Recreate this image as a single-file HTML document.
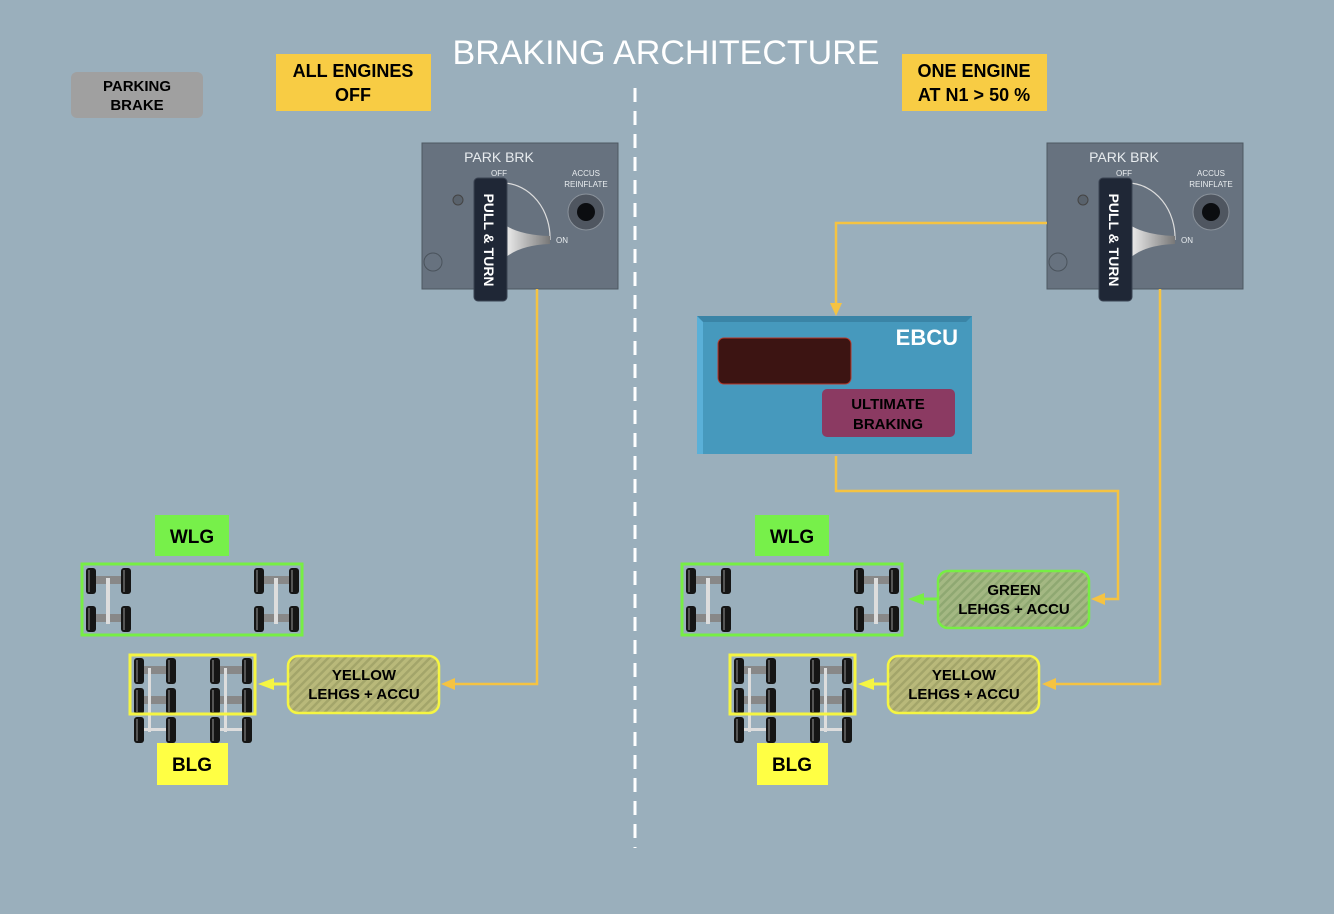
<!DOCTYPE html>
<html><head><meta charset="utf-8"><style>
html,body{margin:0;padding:0;background:#9aafbc;}
svg{display:block;font-family:"Liberation Sans",sans-serif;}
</style></head><body>
<svg width="1334" height="914" viewBox="0 0 1334 914" xmlns="http://www.w3.org/2000/svg">
<defs>
<pattern id="hy" width="6" height="6" patternUnits="userSpaceOnUse" patternTransform="rotate(45)">
<rect width="6" height="6" fill="#b9b97a"/><rect width="2.5" height="6" fill="#a3a56a"/></pattern>
<pattern id="hg" width="6" height="6" patternUnits="userSpaceOnUse" patternTransform="rotate(45)">
<rect width="6" height="6" fill="#a4b883"/><rect width="2.5" height="6" fill="#8fa872"/></pattern>
<linearGradient id="lev" x1="0" x2="1"><stop offset="0" stop-color="#eee"/><stop offset="1" stop-color="#777"/></linearGradient>
<g id="panel">
<rect x="422" y="143" width="196" height="146" fill="#67727f" stroke="#4e5862"/>
<text x="499" y="162" fill="#e8ecef" font-size="14" text-anchor="middle">PARK BRK</text>
<text x="499" y="176" fill="#e8ecef" font-size="8" text-anchor="middle">OFF</text>
<text x="586" y="176" fill="#e8ecef" font-size="8" text-anchor="middle">ACCUS</text>
<text x="586" y="187" fill="#e8ecef" font-size="8" text-anchor="middle">REINFLATE</text>
<path d="M504 183 A48 55 0 0 1 550 240" fill="none" stroke="#ddd" stroke-width="1.2"/>
<text x="556" y="243" fill="#e8ecef" font-size="8">ON</text>
<circle cx="586" cy="212" r="18" fill="#4f5660" stroke="#8a929b"/>
<circle cx="586" cy="212" r="9" fill="#0b0d10"/>
<circle cx="458" cy="200" r="5" fill="#59626c" stroke="#444"/>
<circle cx="433" cy="262" r="9" fill="none" stroke="#4a535c"/>
<path d="M505 225 Q520 235 550 236 L550 244 Q520 245 505 258 Z" fill="url(#lev)"/>
<rect x="474" y="178" width="33" height="123" rx="4" fill="#1f2736" stroke="#3b4453"/>
<text transform="translate(484,240) rotate(90)" fill="#fff" font-size="14" font-weight="bold" text-anchor="middle">PULL &amp; TURN</text>
</g>
<g id="wh"><rect width="10" height="26" rx="3" fill="#151515"/><rect x="2" y="2" width="2" height="22" fill="#555"/></g>
<g id="bogie">
<use href="#wh" x="0" y="0"/><use href="#wh" x="35" y="0"/><use href="#wh" x="0" y="38"/><use href="#wh" x="35" y="38"/>
<rect x="10" y="8" width="25" height="8" fill="#888"/><rect x="10" y="46" width="25" height="8" fill="#888"/>
<rect x="20" y="10" width="4" height="46" fill="#ddd"/>
</g>
<g id="bbogie">
<use href="#wh" x="0" y="0"/><use href="#wh" x="32" y="0"/><use href="#wh" x="0" y="30"/><use href="#wh" x="32" y="30"/><use href="#wh" x="0" y="59" /><use href="#wh" x="32" y="59"/>
<rect x="10" y="8" width="22" height="8" fill="#888"/><rect x="10" y="38" width="22" height="8" fill="#888"/>
<rect x="14" y="10" width="3" height="64" fill="#ddd"/><rect x="10" y="70" width="22" height="3" fill="#ddd"/>
</g>
<g id="gear">
<rect x="155" y="515" width="74" height="41" fill="#77f04a"/>
<text x="192" y="543" font-size="19" font-weight="bold" text-anchor="middle">WLG</text>
<rect x="82" y="564" width="220" height="71" fill="none" stroke="#77ee44" stroke-width="3"/>
<use href="#bogie" x="86" y="568"/><use href="#bogie" x="254" y="568"/>
<use href="#bbogie" x="134" y="658"/><use href="#bbogie" x="210" y="658"/>
<rect x="130" y="655" width="125" height="59" fill="none" stroke="#f5f542" stroke-width="3"/>
<rect x="157" y="743" width="71" height="42" fill="#ffff44"/>
<text x="192" y="771" font-size="19" font-weight="bold" text-anchor="middle">BLG</text>
<rect x="288" y="656" width="151" height="57" rx="10" fill="url(#hy)" stroke="#f5f542" stroke-width="2.5"/>
<text x="364" y="680" font-size="15" font-weight="bold" text-anchor="middle">YELLOW</text>
<text x="364" y="699" font-size="15" font-weight="bold" text-anchor="middle">LEHGS + ACCU</text>
<line x1="287" y1="684" x2="270" y2="684" stroke="#f5f542" stroke-width="3"/>
<path d="M258 684 L274 678 L274 690 Z" fill="#f5f542"/>
</g>
</defs>
<text x="666" y="64" fill="#fff" font-size="34" text-anchor="middle">BRAKING ARCHITECTURE</text>
<line x1="635" y1="88" x2="635" y2="848" stroke="#fff" stroke-width="3" stroke-dasharray="14,9"/>
<rect x="71" y="72" width="132" height="46" rx="6" fill="#a0a0a0"/>
<text x="137" y="91" font-size="15" font-weight="bold" text-anchor="middle">PARKING</text>
<text x="137" y="110" font-size="15" font-weight="bold" text-anchor="middle">BRAKE</text>
<rect x="276" y="54" width="155" height="57" fill="#f8cc44"/>
<text x="353" y="77" font-size="18" font-weight="bold" text-anchor="middle">ALL ENGINES</text>
<text x="353" y="101" font-size="18" font-weight="bold" text-anchor="middle">OFF</text>
<rect x="902" y="54" width="145" height="57" fill="#f8cc44"/>
<text x="974" y="77" font-size="18" font-weight="bold" text-anchor="middle">ONE ENGINE</text>
<text x="974" y="101" font-size="18" font-weight="bold" text-anchor="middle">AT N1 &gt; 50 %</text>

<use href="#panel"/>
<use href="#panel" x="625"/>
<use href="#gear"/>
<use href="#gear" x="600"/>

<g fill="none" stroke="#f5c342" stroke-width="2.5">
<polyline points="537,289 537,684 452,684"/>
<polyline points="1160,289 1160,684 1053,684"/>
<polyline points="1047,223 836,223 836,306"/>
<polyline points="836,456 836,491 1118,491 1118,599 1102,599"/>
</g>
<g fill="#f5c342">
<path d="M441 684 L455 678 L455 690 Z"/>
<path d="M1042 684 L1056 678 L1056 690 Z"/>
<path d="M836 316 L830 303 L842 303 Z"/>
<path d="M1091 599 L1105 593 L1105 605 Z"/>
</g>

<rect x="938" y="571" width="151" height="57" rx="10" fill="url(#hg)" stroke="#77ee44" stroke-width="2.5"/>
<text x="1014" y="595" font-size="15" font-weight="bold" text-anchor="middle">GREEN</text>
<text x="1014" y="614" font-size="15" font-weight="bold" text-anchor="middle">LEHGS + ACCU</text>
<line x1="937" y1="599" x2="920" y2="599" stroke="#77ee44" stroke-width="3"/>
<path d="M908 599 L924 593 L924 605 Z" fill="#77ee44"/>

<rect x="697" y="316" width="275" height="138" fill="#4699bd"/>
<path d="M697 316 L972 316 L966 322 L703 322 Z" fill="#3a84a6"/>
<path d="M697 316 L703 322 L703 454 L697 454 Z" fill="#5ab0d8"/>
<text x="958" y="345" fill="#fff" font-size="22" font-weight="bold" text-anchor="end">EBCU</text>
<rect x="718" y="338" width="133" height="46" rx="6" fill="#3c1412" stroke="#b8382a"/>
<rect x="822" y="389" width="133" height="48" rx="5" fill="#8b3a62"/>
<text x="888" y="409" font-size="15" font-weight="bold" text-anchor="middle">ULTIMATE</text>
<text x="888" y="429" font-size="15" font-weight="bold" text-anchor="middle">BRAKING</text>
</svg>
</body></html>
